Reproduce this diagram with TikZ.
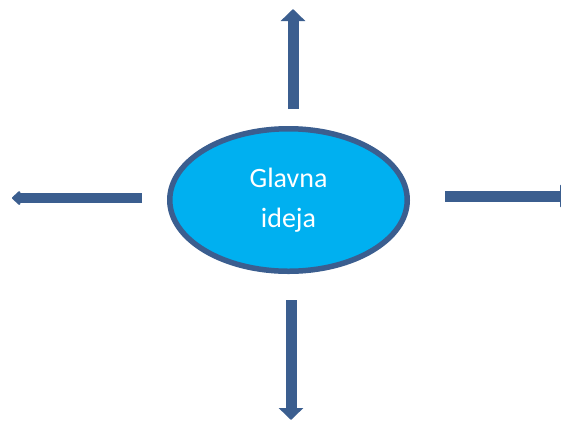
\documentclass[tikz,border=0pt]{standalone}
\usepackage{fontspec}
\setmainfont{Carlito}
\usepackage{xcolor}
\usepackage{tikz}
\usetikzlibrary{arrows.meta, positioning, calc, shapes}

\definecolor{ideablue}{HTML}{00B0F0}
\definecolor{arrowblue}{HTML}{3B5E8F}

\begin{document}
\begin{tikzpicture}[
    x=1pt, y=-1pt,
    idea/.style={ellipse, draw=arrowblue, line width=5.5pt, fill=ideablue, minimum width=237.5pt, minimum height=142.5pt, align=center, text=white, font=\fontsize{28}{40}\selectfont},
    arrow/.style={-{Triangle[length=12pt, width=24pt]}, line width=11pt, draw=arrowblue},
    smallarrow/.style={-{Triangle[length=9pt, width=16pt, round]}, line width=10pt, draw=arrowblue}
]

\useasboundingbox (0,0) rectangle (561,421);

\node[idea] (idea) at (288.5,200) {Glavna\\ideja};

% Arrow ends
\coordinate (up-start) at (293,109);
\coordinate (up-end) at (293,9);
\coordinate (down-start) at (291,300);
\coordinate (down-end) at (291,420);
\coordinate (left-start) at (142,198);
\coordinate (left-end) at (12,198);
\coordinate (right-start) at (445,196);
\coordinate (right-end) at (572,196);

\draw[arrow] (up-start) -- (up-end);
\draw[arrow] (down-start) -- (down-end);
\draw[smallarrow] (left-start) -- (left-end);
\draw[arrow, -{Triangle[length=12pt, width=22pt]}] (right-start) -- (right-end);

\end{tikzpicture}
\end{document}
